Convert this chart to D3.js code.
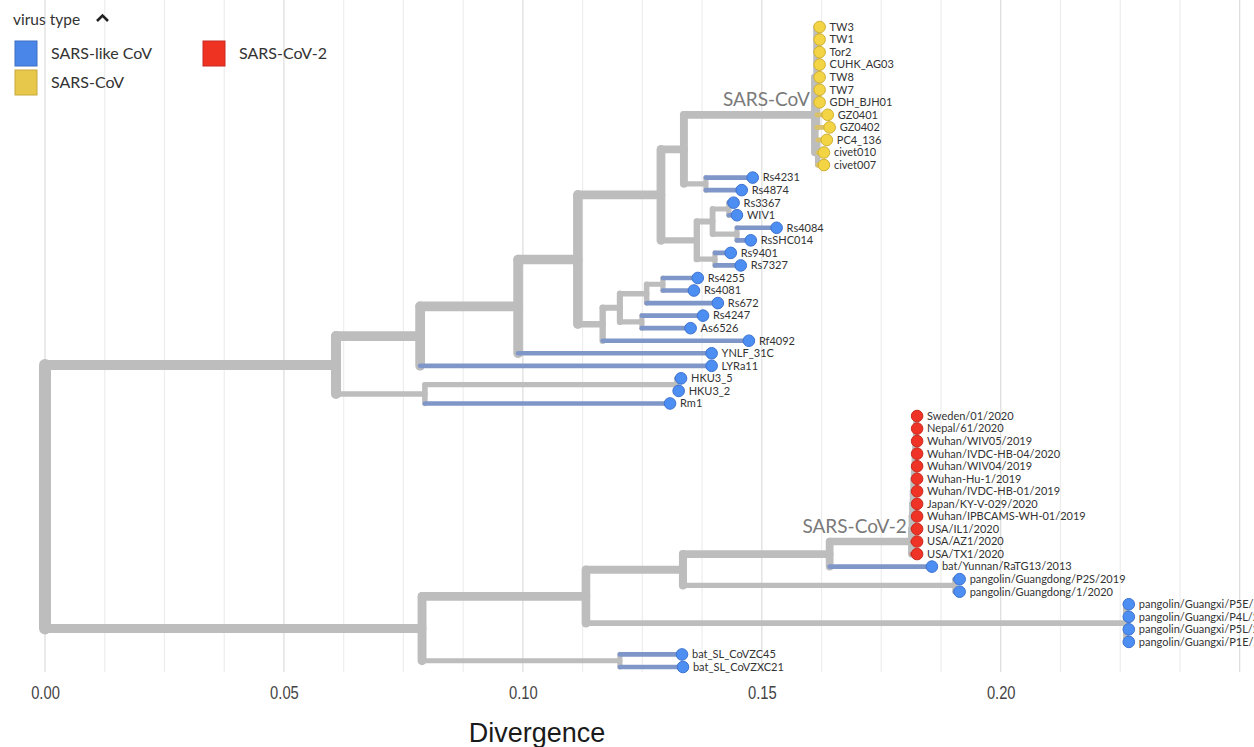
<!DOCTYPE html>
<html>
<head>
<meta charset="utf-8">
<script src="https://cdn.jsdelivr.net/npm/d3@7"></script>
<style>
  body { margin: 0; background: #fff; }
  svg { display: block; font-family: Lato, "Open Sans", sans-serif; }
</style>
</head>
<body>
<svg id="chart" width="1254" height="747"></svg>
<script>
// tree nodes, listed depth-first, top to bottom
var nodeNames = [
  "root", "A", "B", "D", "E", "F", "G", "S", "S1",
  "TW3", "TW1", "Tor2", "CUHK_AG03", "TW8", "TW7", "GDH_BJH01", "GZ0401", "GZ0402",
  "S2", "PC4_136", "civet010", "civet007",
  "H", "Rs4231", "Rs4874",
  "I", "J", "K", "Rs3367", "WIV1", "L", "Rs4084", "RsSHC014", "M", "Rs9401", "Rs7327",
  "N", "O", "P", "Q", "Rs4255", "Rs4081", "Rs672", "R", "Rs4247", "As6526", "Rf4092",
  "YNLF_31C", "LYRa11",
  "C", "T", "HKU3_5", "HKU3_2", "Rm1",
  "U", "V", "W", "X",
  "N01", "N02", "N03", "N04", "N05", "N06", "N07", "N08", "N09", "N10", "N11",
  "Sweden/01/2020", "Nepal/61/2020", "Wuhan/WIV05/2019", "Wuhan/IVDC-HB-04/2020",
  "Wuhan/WIV04/2019", "Wuhan-Hu-1/2019", "Wuhan/IVDC-HB-01/2019", "Japan/KY-V-029/2020",
  "Wuhan/IPBCAMS-WH-01/2019", "USA/IL1/2020", "USA/AZ1/2020", "USA/TX1/2020",
  "bat/Yunnan/RaTG13/2013",
  "Y", "pangolin/Guangdong/P2S/2019", "pangolin/Guangdong/1/2020",
  "Z", "pangolin/Guangxi/P5E/2017", "pangolin/Guangxi/P4L/2017",
  "pangolin/Guangxi/P5L/2017", "pangolin/Guangxi/P1E/2017",
  "BS", "bat_SL_CoVZC45", "bat_SL_CoVZXC21"
];
var nodeParents = [
  "", "root", "A", "B", "D", "E", "F", "G", "S",
  "S1", "S1", "S1", "S1", "S1", "S1", "S1", "S1", "S1",
  "S", "S2", "S2", "S2",
  "G", "H", "H",
  "F", "I", "J", "K", "K", "J", "L", "L", "I", "M", "M",
  "E", "N", "O", "P", "Q", "Q", "P", "O", "R", "R", "N",
  "D", "B",
  "A", "C", "T", "T", "C",
  "root", "U", "V", "W",
  "X", "N01", "N02", "N03", "N04", "N05", "N06", "N07", "N08", "N09", "N10",
  "N11", "N11", "N10", "N09",
  "N08", "N07", "N06", "N05",
  "N04", "N03", "N02", "N01",
  "X",
  "W", "Y", "Y",
  "V", "Z", "Z",
  "Z", "Z",
  "U", "BS", "BS"
];
var nodeDivergence = [
  0, 0.0609, 0.0785, 0.0990, 0.1115, 0.1289, 0.1337, 0.1611, 0.1615,
  0.1621, 0.1621, 0.1621, 0.1621, 0.1621, 0.1621, 0.1621, 0.1638, 0.1642,
  0.1617, 0.1636, 0.1630, 0.1630,
  0.1383, 0.1481, 0.1458,
  0.1364, 0.1397, 0.1431, 0.1441, 0.1448, 0.1448, 0.1531, 0.1477, 0.1402, 0.1435, 0.1456,
  0.1167, 0.1203, 0.1259, 0.1293, 0.1366, 0.1358, 0.1408, 0.1249, 0.1377, 0.1351, 0.1473,
  0.1395, 0.1395,
  0.0795, 0.1322, 0.1331, 0.1326, 0.1308,
  0.0789, 0.1132, 0.1335, 0.1642,
  0.1814, 0.1815, 0.1816, 0.1817, 0.1818, 0.1819, 0.1820, 0.1821, 0.1822, 0.1823, 0.1823,
  0.1825, 0.1825, 0.1825, 0.1825,
  0.1825, 0.1825, 0.1825, 0.1825,
  0.1825, 0.1825, 0.1825, 0.1825,
  0.1856,
  0.1904, 0.1914, 0.1914,
  0.2262, 0.2268, 0.2268,
  0.2268, 0.2268,
  0.1203, 0.1333, 0.1335
];

var sarsCovTips = ["TW3", "TW1", "Tor2", "CUHK_AG03", "TW8", "TW7", "GDH_BJH01",
  "GZ0401", "GZ0402", "PC4_136", "civet010", "civet007"];
var sarsCov2Tips = ["Sweden/01/2020", "Nepal/61/2020", "Wuhan/WIV05/2019", "Wuhan/IVDC-HB-04/2020",
  "Wuhan/WIV04/2019", "Wuhan-Hu-1/2019", "Wuhan/IVDC-HB-01/2019", "Japan/KY-V-029/2020",
  "Wuhan/IPBCAMS-WH-01/2019", "USA/IL1/2020", "USA/AZ1/2020", "USA/TX1/2020"];

var legendTypes = ["SARS-like CoV", "SARS-CoV", "SARS-CoV-2"];
var cladeLabels = ["SARS-CoV", "SARS-CoV-2"];
var cladeNodes = ["S", "N01"];
var xTicks = [0, 0.05, 0.10, 0.15, 0.20];

var fillColor = { "SARS-like CoV": "#4d8ef3", "SARS-CoV": "#f3d444", "SARS-CoV-2": "#ef3326" };
var edgeColor = { "SARS-like CoV": "#3c72cf", "SARS-CoV": "#d0b030", "SARS-CoV-2": "#c92a1e" };
var branchColor = { "SARS-like CoV": "#7f97c8", "SARS-CoV": "#d9c26a", "SARS-CoV-2": "#d66a60" };
var swatchColor = { "SARS-like CoV": "#4a86e8", "SARS-CoV": "#e8c84a", "SARS-CoV-2": "#ee3322" };
var swatchEdge = { "SARS-like CoV": "#3a6fc4", "SARS-CoV": "#c8a83a", "SARS-CoV-2": "#c82b20" };
var internalColor = "#bdbdbd";

function virusType(name) {
  if (sarsCovTips.indexOf(name) >= 0) return "SARS-CoV";
  if (sarsCov2Tips.indexOf(name) >= 0) return "SARS-CoV-2";
  return "SARS-like CoV";
}

var svg = d3.select("#chart");

var table = nodeNames.map(function (n, i) {
  return { name: n, parent: nodeParents[i], div: nodeDivergence[i] };
});
var root = d3.stratify()
  .id(function (d) { return d.name; })
  .parentId(function (d) { return d.parent; })(table);

var leaves = root.leaves();
leaves.forEach(function (d, i) { d.yi = i; });
root.eachAfter(function (d) {
  if (d.children) {
    d.yi = d3.mean(d.children, function (c) { return c.yi; });
    d.tips = d3.sum(d.children, function (c) { return c.tips; });
  } else {
    d.tips = 1;
  }
});

var x = d3.scaleLinear().domain([0, 0.253]).range([45, 1254]);
var y = d3.scaleLinear().domain([0, leaves.length - 1]).range([27, 667]);
var thick = d3.scaleSqrt().domain([0, leaves.length]).range([3.5, 12]);

// grid
var grid = d3.range(0, 0.2501, 0.0125);
svg.append("g").selectAll("line")
  .data(grid)
  .enter().append("line")
  .attr("x1", function (d) { return x(d); })
  .attr("x2", function (d) { return x(d); })
  .attr("y1", 0)
  .attr("y2", 672)
  .attr("stroke", function (d) {
    var r = d / 0.05;
    return Math.abs(r - Math.round(r)) < 1e-6 ? "#dcdcdc" : "#ededed";
  })
  .attr("stroke-width", 1.2);

// branches
var nodes = root.descendants();
var internals = nodes.filter(function (d) { return d.children; });
var tips = leaves;

var gBranches = svg.append("g")
  .attr("fill", "none")
  .attr("stroke-linecap", "round");

gBranches.selectAll("path.h-int")
  .data(internals.filter(function (d) { return d.parent; }))
  .enter().append("path")
  .attr("class", "h-int")
  .attr("d", function (d) {
    return "M" + x(d.parent.data.div) + "," + y(d.yi) + "H" + x(d.data.div);
  })
  .attr("stroke", internalColor)
  .attr("stroke-width", function (d) { return thick(d.tips); });

gBranches.selectAll("path.v-int")
  .data(internals)
  .enter().append("path")
  .attr("class", "v-int")
  .attr("d", function (d) {
    var first = d.children[0], last = d.children[d.children.length - 1];
    return "M" + x(d.data.div) + "," + y(first.yi) + "V" + y(last.yi);
  })
  .attr("stroke", internalColor)
  .attr("stroke-width", function (d) { return thick(d.tips); });

gBranches.selectAll("path.h-tip")
  .data(tips)
  .enter().append("path")
  .attr("class", "h-tip")
  .attr("d", function (d) {
    return "M" + x(d.parent.data.div) + "," + y(d.yi) + "H" + x(d.data.div);
  })
  .attr("stroke", function (d) { return branchColor[virusType(d.id)]; })
  .attr("stroke-width", function (d) { return thick(d.tips); });

// clade labels
svg.append("g").selectAll("text")
  .data(cladeLabels)
  .enter().append("text")
  .attr("x", function (d, i) {
    var n = root.find(function (k) { return k.id === cladeNodes[i]; });
    return x(n.data.div) - 5;
  })
  .attr("y", function (d, i) {
    var n = root.find(function (k) { return k.id === cladeNodes[i]; });
    return y(n.yi) - 9;
  })
  .attr("text-anchor", "end")
  .attr("font-size", 19)
  .attr("fill", "#7a7a7a")
  .text(function (d) { return d; });

// tips
svg.append("g").selectAll("circle")
  .data(tips)
  .enter().append("circle")
  .attr("cx", function (d) { return x(d.data.div); })
  .attr("cy", function (d) { return y(d.yi); })
  .attr("r", 5.8)
  .attr("fill", function (d) { return fillColor[virusType(d.id)]; })
  .attr("stroke", function (d) { return edgeColor[virusType(d.id)]; })
  .attr("stroke-width", 1);

svg.append("g").selectAll("text")
  .data(tips)
  .enter().append("text")
  .attr("x", function (d) { return x(d.data.div) + 10; })
  .attr("y", function (d) { return y(d.yi); })
  .attr("dy", "0.35em")
  .attr("font-size", 11)
  .attr("fill", "#333")
  .text(function (d) { return d.id; });

// axis
var axis = svg.append("g")
  .attr("transform", "translate(0,683)")
  .call(d3.axisBottom(x).tickValues(xTicks).tickFormat(d3.format(".2f")).tickSize(0));
axis.select(".domain").remove();
axis.selectAll("text")
  .attr("font-family", "'Liberation Sans', Arial, sans-serif")
  .attr("font-size", 18)
  .attr("fill", "#444")
  .attr("transform", "scale(0.82,1)");

svg.append("text")
  .attr("x", 537)
  .attr("y", 742)
  .attr("text-anchor", "middle")
  .attr("font-family", "'Liberation Sans', Arial, sans-serif")
  .attr("font-size", 27)
  .attr("fill", "#1a1a1a")
  .text("Divergence");

// legend
var legend = svg.append("g");
legend.append("text")
  .attr("x", 13)
  .attr("y", 25)
  .attr("font-size", 15.5)
  .attr("fill", "#333")
  .text("virus type");
legend.append("path")
  .attr("d", "M97,21L102.5,15.5L108,21")
  .attr("fill", "none")
  .attr("stroke", "#222")
  .attr("stroke-width", 2.6);

var items = legend.selectAll("g.item")
  .data(legendTypes)
  .enter().append("g")
  .attr("class", "item")
  .attr("transform", function (d, i) {
    return "translate(" + (15 + Math.floor(i / 2) * 188) + "," + (41 + (i % 2) * 29) + ")";
  });
items.append("rect")
  .attr("width", 22)
  .attr("height", 25)
  .attr("fill", function (d) { return swatchColor[d]; })
  .attr("stroke", function (d) { return swatchEdge[d]; })
  .attr("stroke-width", 1);
items.append("text")
  .attr("x", 36)
  .attr("y", 12.5)
  .attr("dy", "0.35em")
  .attr("font-size", 16)
  .attr("fill", "#333")
  .text(function (d) { return d; });
</script>
</body>
</html>
